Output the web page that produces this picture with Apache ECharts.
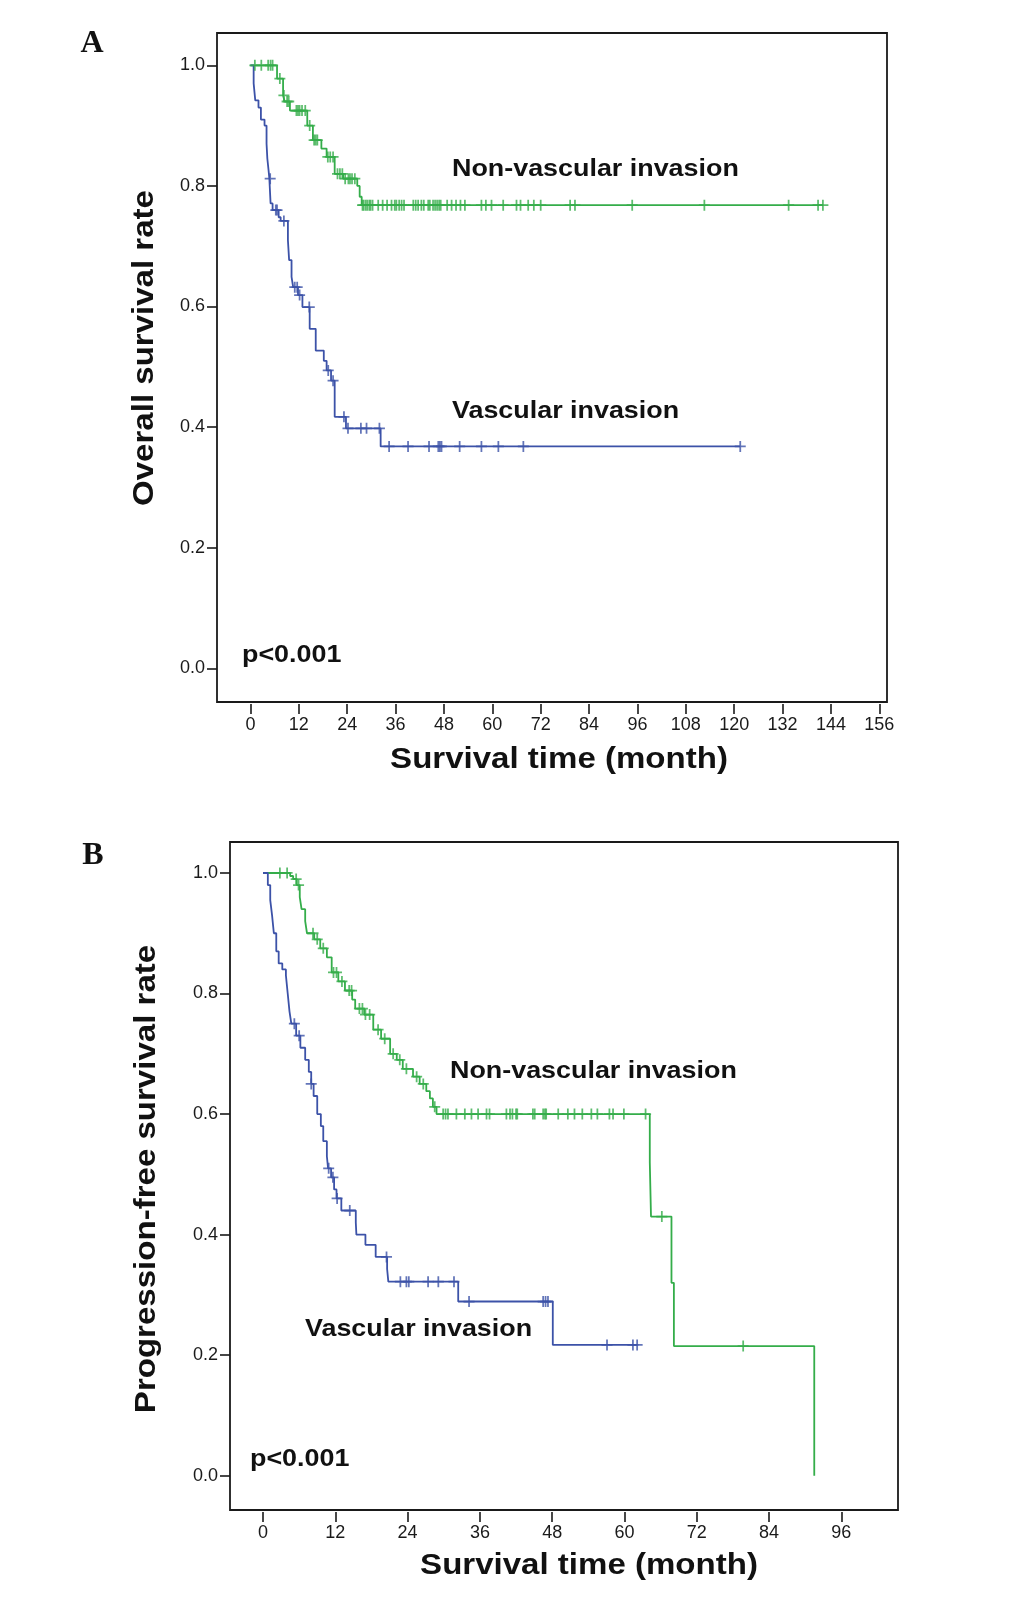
<!DOCTYPE html>
<html>
<head>
<meta charset="utf-8">
<title>Survival curves</title>
<script src="https://cdn.jsdelivr.net/npm/echarts@6/dist/echarts.min.js"></script>
<style>
  html, body { margin: 0; padding: 0; background: #fff; }
  #chart { width: 1033px; height: 1603px; }
</style>
</head>
<body>
<div id="chart"></div>
<script>
// ---- panel A : overall survival ----
var aNonTime = [0, 6.6, 8.1, 8.5, 9.8, 14.1, 15.5, 17.6, 18.9, 20.9, 23.0, 26.5, 27.1, 27.6];
var aNonSurv = [1.0, 0.978, 0.95, 0.94, 0.925, 0.90, 0.876, 0.862, 0.848, 0.82, 0.812, 0.80, 0.782, 0.768];
var aNonEnd = 142.0;
var aNonCens = [1.1, 2.7, 4.4, 5.0, 5.5, 7.3, 8.3, 9.1, 9.5, 11.4, 11.8, 12.2, 12.8, 13.6, 14.7, 15.8, 16.2, 16.6,
  19.2, 19.8, 20.5, 21.6, 22.2, 22.8, 23.5, 24.3, 24.7, 25.2, 25.9, 27.8, 28.1, 28.6, 29.0, 29.5, 29.8, 30.3,
  31.7, 32.8, 33.9, 35.0, 35.8, 36.2, 36.9, 37.5, 38.1, 40.4, 41.0, 41.6, 42.4, 43.0, 44.1, 44.5, 45.3, 45.8,
  46.3, 46.8, 47.2, 48.8, 49.9, 51.0, 52.1, 53.2, 57.3, 58.4, 59.8, 62.7, 66.0, 67.0, 68.9, 70.3, 72.0, 79.3,
  80.5, 94.7, 112.6, 133.5, 140.8, 142.0];

var aVasTime = [0, 0.8, 1.2, 2.0, 2.6, 3.5, 4.0, 4.2, 4.5, 4.7, 5.0, 5.5, 7.0, 7.5, 9.3, 9.6, 10.2, 10.6, 11.8,
  12.9, 14.7, 16.2, 18.2, 18.9, 20.0, 20.9, 23.7, 32.3];
var aVasSurv = [1.0, 0.97, 0.942, 0.93, 0.91, 0.90, 0.87, 0.845, 0.826, 0.812, 0.771, 0.76, 0.748, 0.742, 0.71,
  0.677, 0.649, 0.632, 0.619, 0.599, 0.563, 0.527, 0.51, 0.494, 0.477, 0.417, 0.398, 0.368];
var aVasEnd = 121.5;
var aVasCens = [4.9, 6.3, 6.6, 8.3, 11.0, 11.6, 12.2, 14.6, 19.3, 20.5, 23.2, 24.2, 27.4, 28.8, 32.0, 34.4, 39.1,
  44.3, 46.6, 47.0, 47.4, 51.9, 57.3, 61.5, 67.7, 121.5];

// ---- panel B : progression-free survival ----
var bNonTime = [0, 4.5, 5.0, 5.6, 6.1, 6.4, 7.0, 7.3, 8.5, 9.5, 10.6, 11.4, 12.5, 13.6, 14.8, 15.3, 16.8, 18.3,
  19.6, 21.1, 22.2, 23.2, 24.9, 26.0, 27.1, 27.7, 28.2, 28.8, 64.2, 64.4, 67.8, 68.2, 91.5];
var bNonSurv = [1.0, 0.995, 0.99, 0.98, 0.96, 0.94, 0.92, 0.90, 0.89, 0.875, 0.86, 0.835, 0.82, 0.805, 0.79, 0.775,
  0.765, 0.74, 0.725, 0.70, 0.69, 0.675, 0.662, 0.65, 0.638, 0.626, 0.612, 0.60, 0.52, 0.43, 0.32, 0.215, 0.0];
var bNonEnd = 91.5;
var bNonCens = [2.8, 4.0, 5.5, 5.9, 8.3, 9.0, 10.0, 11.7, 12.2, 13.1, 14.3, 14.7, 16.0, 16.5, 17.0, 17.7, 19.1,
  20.2, 21.6, 22.7, 23.8, 25.5, 26.6, 28.5, 29.9, 30.3, 30.7, 32.1, 33.5, 34.6, 35.7, 37.1, 37.6, 40.4, 41.0,
  41.4, 42.0, 42.2, 44.8, 45.1, 46.5, 46.8, 47.0, 49.0, 50.6, 51.7, 53.0, 54.5, 55.5, 57.5, 58.1, 59.9, 63.5,
  66.2, 79.7];

var bVasTime = [0, 0.8, 1.2, 1.5, 1.8, 2.2, 2.6, 3.2, 3.8, 4.1, 4.4, 4.7, 5.5, 6.2, 7.0, 7.6, 8.0, 8.4, 9.0, 9.6,
  10.0, 10.6, 10.8, 11.3, 11.8, 12.2, 13.0, 15.4, 15.5, 17.0, 18.7, 20.6, 20.8, 32.4, 48.1];
var bVasSurv = [1.0, 0.98, 0.955, 0.93, 0.90, 0.87, 0.85, 0.84, 0.83, 0.80, 0.77, 0.75, 0.73, 0.71, 0.69, 0.67,
  0.65, 0.63, 0.60, 0.58, 0.555, 0.53, 0.51, 0.495, 0.475, 0.46, 0.44, 0.42, 0.40, 0.383, 0.363, 0.343, 0.322,
  0.289, 0.217];
var bVasEnd = 62.1;
var bVasCens = [5.2, 6.0, 8.0, 10.9, 11.6, 12.3, 14.4, 20.5, 22.8, 23.8, 24.2, 27.4, 29.1, 31.7, 34.2, 46.5, 46.9,
  47.3, 57.1, 61.4, 62.1];

// ticks
var xTicksA = [0, 12, 24, 36, 48, 60, 72, 84, 96, 108, 120, 132, 144, 156];
var xTicksB = [0, 12, 24, 36, 48, 60, 72, 84, 96];
var yTicks = [0, 0.2, 0.4, 0.6, 0.8, 1.0];

var GREEN = '#34ad4a';
var BLUE = '#3c52a8';
var SANS = '"Liberation Sans", Arial, sans-serif';
var NARROW = '"Liberation Sans Narrow", "Liberation Sans", Arial, sans-serif';
var PLUS = 'path://M0,4.2h10v1.6h-10z M4.2,0h1.6v10h-1.6z';

function stepLine(times, surv, end) {
    var pts = [];
    for (var i = 0; i < times.length; i++) {
        pts.push([times[i], surv[i]]);
    }
    if (end > times[times.length - 1]) {
        pts.push([end, surv[surv.length - 1]]);
    }
    return pts;
}

// censored cases sit on the curve at the value that holds at that time
function censored(times, surv, cens) {
    return cens.map(function (t) {
        var s = surv[0];
        for (var i = 0; i < times.length; i++) {
            if (times[i] <= t) s = surv[i];
        }
        return [t, s];
    });
}

function curve(idx, times, surv, end, cens, color) {
    return [
        {
            type: 'line', xAxisIndex: idx, yAxisIndex: idx, step: 'end',
            data: stepLine(times, surv, end), showSymbol: false, silent: true,
            lineStyle: {color: color, width: 1.8}, z: 3
        },
        {
            type: 'scatter', xAxisIndex: idx, yAxisIndex: idx,
            data: censored(times, surv, cens), symbol: PLUS, symbolSize: 11, silent: true,
            itemStyle: {color: color}, z: 4
        }
    ];
}

function xAxisFor(idx, min, max, ticks) {
    return {
        type: 'value', gridIndex: idx, min: min, max: max, offset: 2,
        axisLine: {show: false, onZero: false}, splitLine: {show: false},
        axisTick: {show: true, length: 10, customValues: ticks, lineStyle: {color: '#1a1a1a', width: 1.6}},
        axisLabel: {customValues: ticks, fontSize: 18, fontFamily: NARROW, color: '#1a1a1a', margin: 12}
    };
}

function yAxisFor(idx, min, max) {
    return {
        type: 'value', gridIndex: idx, min: min, max: max,
        axisLine: {show: false, onZero: false}, splitLine: {show: false},
        axisTick: {show: true, length: 10, customValues: yTicks, lineStyle: {color: '#1a1a1a', width: 1.6}},
        axisLabel: {
            customValues: yTicks, fontSize: 18, fontFamily: NARROW, color: '#1a1a1a', margin: 12,
            formatter: function (v) { return v.toFixed(1); }
        }
    };
}

function txt(text, x, y, size, align, extra) {
    var el = {
        type: 'text', x: x, y: y, scaleX: 1.12, silent: true,
        style: {
            text: text, font: 'bold ' + size + 'px ' + SANS, fill: '#111',
            textAlign: align, textVerticalAlign: 'middle'
        }
    };
    if (extra) {
        for (var k in extra) el[k] = extra[k];
    }
    return el;
}

function panelLetter(text, x, y) {
    return {
        type: 'text', x: x, y: y, silent: true,
        style: {
            text: text, font: 'bold 32px "Liberation Serif", "Times New Roman", serif', fill: '#111',
            textAlign: 'center', textVerticalAlign: 'middle'
        }
    };
}

var myChart = echarts.init(document.getElementById('chart'), null, {renderer: 'canvas'});

var series = [].concat(
    curve(0, aNonTime, aNonSurv, aNonEnd, aNonCens, GREEN),
    curve(0, aVasTime, aVasSurv, aVasEnd, aVasCens, BLUE),
    curve(1, bNonTime, bNonSurv, bNonEnd, bNonCens, GREEN),
    curve(1, bVasTime, bVasSurv, bVasEnd, bVasCens, BLUE)
);

var option = {
    backgroundColor: '#fff',
    animation: false,
    grid: [
        {left: 217, top: 33, width: 670, height: 669, show: true, borderColor: '#1a1a1a', borderWidth: 1.8},
        {left: 230, top: 842, width: 668, height: 668, show: true, borderColor: '#1a1a1a', borderWidth: 1.8}
    ],
    xAxis: [
        xAxisFor(0, -8.29, 157.9, xTicksA),
        xAxisFor(1, -5.48, 105.4, xTicksB)
    ],
    yAxis: [
        yAxisFor(0, -0.0559, 1.0536),
        yAxisFor(1, -0.0569, 1.0514)
    ],
    graphic: [
        panelLetter('A', 92, 44),
        panelLetter('B', 93, 856),
        txt('Non-vascular invasion', 452, 169, 24, 'left'),
        txt('Vascular invasion', 452, 411, 24, 'left'),
        txt('p<0.001', 242, 655, 24, 'left'),
        txt('Overall survival rate', 145, 348, 29.5, 'center', {rotation: Math.PI / 2}),
        txt('Survival time (month)', 559, 760, 29.5, 'center'),
        txt('Non-vascular invasion', 450, 1071, 24, 'left'),
        txt('Vascular invasion', 305, 1329, 24, 'left'),
        txt('p<0.001', 250, 1459, 24, 'left'),
        txt('Progression-free survival rate', 147, 1179, 29.5, 'center', {rotation: Math.PI / 2}),
        txt('Survival time (month)', 589, 1566, 29.5, 'center')
    ],
    series: series
};

myChart.setOption(option);
</script>
</body>
</html>
